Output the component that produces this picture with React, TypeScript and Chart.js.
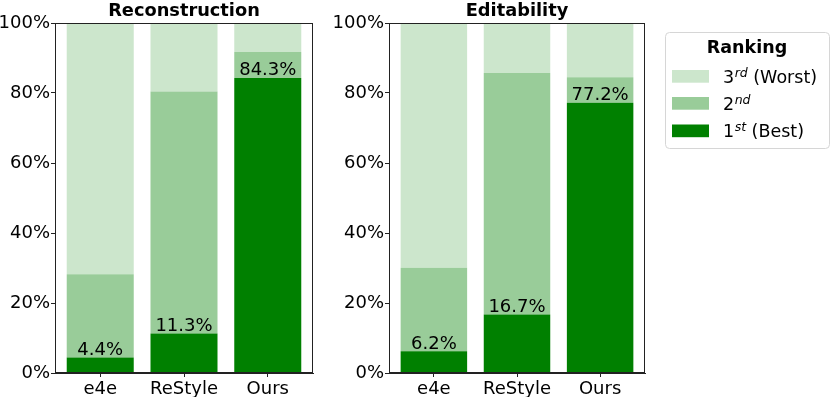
import React, { useEffect, useRef } from 'react';
import { Chart, registerables } from 'chart.js';
Chart.register(...registerables);

const categories = ['e4e', 'ReStyle', 'Ours'];
const recFirst = [4.4, 11.3, 84.3];
const recSecond = [23.8, 69.1, 7.4];
const recThird = [71.8, 19.6, 8.3];
const editFirst = [6.2, 16.7, 77.2];
const editSecond = [23.9, 69.0, 7.3];
const editThird = [69.9, 14.3, 15.5];
const yTicks = [0, 20, 40, 60, 80, 100];
const titles = ['Reconstruction', 'Editability'];
const legendTitle = 'Ranking';
const legendItems = [
  { base: '3', sup: 'rd', rest: ' (Worst)' },
  { base: '2', sup: 'nd', rest: '' },
  { base: '1', sup: 'st', rest: ' (Best)' },
];
const seriesNames = ['1st (Best)', '2nd', '3rd (Worst)'];

const COLORS = ['#008000', '#99cc99', '#cce6cc'];
const FONT = 'DejaVu Sans';
const FS = 18;
const LFS = 17.5;

type Geo = { width: number; yAxisW: number; padRight: number; padTop: number; xAxisH: number };

function makeConfig(title: string, first: number[], second: number[], third: number[], geo: Geo, withLegend: boolean): any {
  const toPts = (arr: number[]) => arr.map((v, i) => ({ x: i, y: v }));
  const plugins: any[] = [
    {
      id: 'boxTitleLabels',
      afterDatasetsDraw(chart: any) {
        const ctx = chart.ctx;
        ctx.save();
        const meta = chart.getDatasetMeta(0);
        ctx.font = `${FS}px "${FONT}"`;
        ctx.fillStyle = '#000';
        ctx.textAlign = 'center';
        ctx.textBaseline = 'alphabetic';
        meta.data.forEach((el: any, i: number) => {
          ctx.fillText(`${first[i]}%`, el.x, el.y - 2.5);
        });
        ctx.restore();
      },
      afterDraw(chart: any) {
        const ctx = chart.ctx;
        const a = chart.chartArea;
        ctx.save();
        ctx.strokeStyle = '#222';
        ctx.lineWidth = 1;
        const l = Math.round(a.left) + 0.5;
        const r = Math.round(a.right) - 0.5;
        const t = Math.round(a.top) + 0.5;
        const b = Math.round(a.bottom) - 0.5;
        ctx.strokeRect(l, t, r - l, b - t);
        ctx.font = `bold 17.8px "${FONT}"`;
        ctx.fillStyle = '#000';
        ctx.textAlign = 'center';
        ctx.textBaseline = 'alphabetic';
        ctx.fillText(title, (a.left + a.right) / 2, 15.5);
        if (withLegend) {
          const bx = a.right + 20, by = 32, bw = 164, bh = 116;
          ctx.beginPath();
          (ctx as any).roundRect(bx + 0.5, by + 0.5, bw, bh, 4);
          ctx.fillStyle = '#fff';
          ctx.fill();
          ctx.strokeStyle = '#d6d6d6';
          ctx.stroke();
          ctx.fillStyle = '#000';
          ctx.font = `bold ${LFS}px "${FONT}"`;
          ctx.textAlign = 'center';
          ctx.fillText(legendTitle, bx + 82, 52.5);
          const swatchTops = [70, 97, 124.5];
          const baselines = [83, 110, 137];
          const colorIdx = [2, 1, 0];
          legendItems.forEach((it, k) => {
            ctx.fillStyle = COLORS[colorIdx[k]];
            ctx.fillRect(bx + 7, swatchTops[k], 37, 12.7);
            ctx.fillStyle = '#000';
            ctx.textAlign = 'left';
            let x = bx + 58;
            ctx.font = `${LFS}px "${FONT}"`;
            ctx.fillText(it.base, x, baselines[k]);
            x += ctx.measureText(it.base).width;
            ctx.font = `italic 12.5px "${FONT}"`;
            ctx.fillText(it.sup, x + 0.5, baselines[k] - 6.5);
            x += ctx.measureText(it.sup).width + 0.5;
            ctx.font = `${LFS}px "${FONT}"`;
            ctx.fillText(it.rest, x, baselines[k]);
          });
        }
        ctx.restore();
      },
    },
  ];
  return {
    type: 'bar',
    data: {
      datasets: [first, second, third].map((d, k) => ({
        label: seriesNames[k],
        data: toPts(d),
        backgroundColor: COLORS[k],
        borderWidth: 0,
        barPercentage: 0.8,
        categoryPercentage: 1,
      })),
    },
    options: {
      responsive: false,
      animation: false,
      layout: { padding: { left: 0, right: geo.padRight, top: geo.padTop, bottom: 0 } },
      plugins: { legend: { display: false }, tooltip: { enabled: false }, title: { display: false } },
      scales: {
        x: {
          type: 'linear',
          stacked: true,
          offset: false,
          min: -0.54,
          max: 2.54,
          afterBuildTicks: (s: any) => {
            s.ticks = categories.map((_, i) => ({ value: i }));
          },
          afterFit: (s: any) => {
            s.height = geo.xAxisH;
          },
          ticks: {
            callback: (v: any) => categories[Math.round(v)] ?? '',
            color: '#000',
            font: { family: FONT, size: FS },
            padding: 1.5,
            maxRotation: 0,
            autoSkip: false,
          },
          grid: { display: true, offset: false, drawOnChartArea: false, drawTicks: true, tickLength: 4, color: '#222' },
          border: { display: true, color: '#222' },
        },
        y: {
          type: 'linear',
          stacked: true,
          min: 0,
          max: 100,
          afterBuildTicks: (s: any) => {
            s.ticks = yTicks.map((v) => ({ value: v }));
          },
          afterFit: (s: any) => {
            s.width = geo.yAxisW;
          },
          ticks: {
            callback: (v: any) => `${v}%`,
            color: '#000',
            font: { family: FONT, size: FS },
            padding: 1,
          },
          grid: { display: true, drawOnChartArea: false, drawTicks: true, tickLength: 4, color: '#222' },
          border: { display: true, color: '#222' },
        },
      },
    },
    plugins,
  };
}

function ChartCanvas({ left, geo, title, first, second, third, withLegend }: any) {
  const ref = useRef<HTMLCanvasElement | null>(null);
  useEffect(() => {
    if (!ref.current) return;
    const chart = new Chart(ref.current, makeConfig(title, first, second, third, geo, withLegend));
    return () => chart.destroy();
  }, []);
  return (
    <canvas
      ref={ref}
      width={geo.width}
      height={397}
      style={{ position: 'absolute', left, top: 0, width: geo.width, height: 397 }}
    />
  );
}

export default function App() {
  return (
    <div style={{ position: 'fixed', left: 0, top: 0, width: 830, height: 397, background: '#fff' }}>
      <ChartCanvas
        left={0}
        geo={{ width: 330, yAxisW: 55, padRight: 17, padTop: 23, xAxisH: 24 }}
        title={titles[0]}
        first={recFirst}
        second={recSecond}
        third={recThird}
        withLegend={false}
      />
      <ChartCanvas
        left={330}
        geo={{ width: 500, yAxisW: 59, padRight: 185, padTop: 23, xAxisH: 24 }}
        title={titles[1]}
        first={editFirst}
        second={editSecond}
        third={editThird}
        withLegend={true}
      />
    </div>
  );
}
